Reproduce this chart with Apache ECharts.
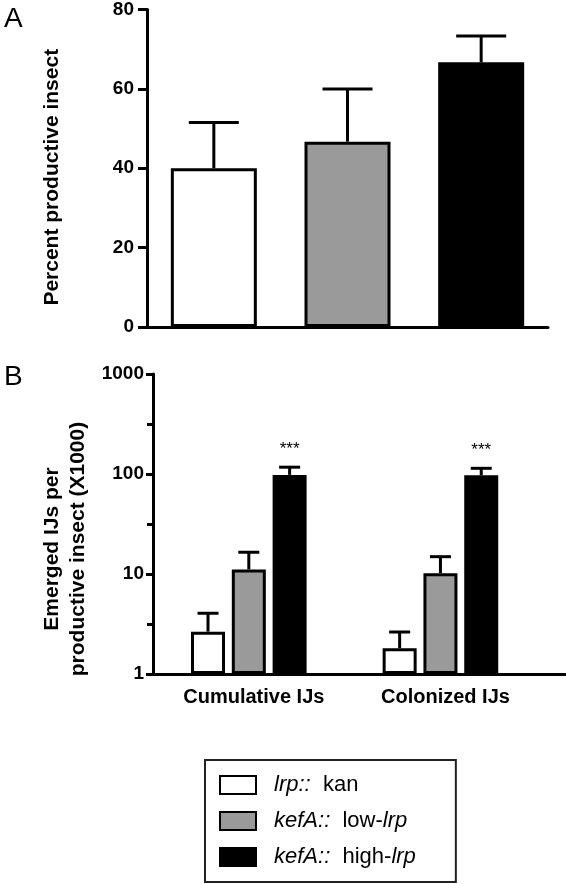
<!DOCTYPE html>
<html>
<head>
<meta charset="utf-8">
<script src="https://cdn.jsdelivr.net/npm/echarts@6/dist/echarts.min.js"></script>
<style>
html,body{margin:0;padding:0;background:#fff;}
#chart{width:566px;height:884px;}
</style>
</head>
<body>
<div id="chart"></div>
<script>
// ---------- Panel A data ----------
var categoriesA = ['lrp:: kan', 'kefA:: low-lrp', 'kefA:: high-lrp'];
var valuesA = [40, 46.7, 66.7];
var errTopA = [51.5, 60, 73.3];
var ticksA = [0, 20, 40, 60, 80];

// ---------- Panel B data ----------
var groupsB = ['Cumulative IJs', 'Colonized IJs'];
var seriesNamesB = ['lrp:: kan', 'kefA:: low-lrp', 'kefA:: high-lrp'];
var kanB = [2.65, 1.81];
var kanErrTopB = [4.05, 2.63];
var lowB = [11.1, 10.2];
var lowErrTopB = [16.5, 14.9];
var highB = [98, 97];
var highErrTopB = [117, 114];
var significanceB = ['***', '***'];
var ticksB = [1, 10, 100, 1000];

var colorsB = ['#ffffff', '#9a9a9a', '#000000'];
var valuesB = [kanB, lowB, highB];
var errTopsB = [kanErrTopB, lowErrTopB, highErrTopB];

var FONT = 'Liberation Sans, Arial, sans-serif';
var BW_B = 34, GAP_B = 0.2;
var STEP_B = BW_B * (1 + GAP_B);

var chart = echarts.init(document.getElementById('chart'), null, {renderer: 'canvas'});

function errA(params, api) {
  var x = api.value(0);
  var base = api.coord([x, api.value(1)]);
  var top = api.coord([x, api.value(2)]);
  var hw = 25;
  return {
    type: 'group',
    children: [
      {type: 'line', shape: {x1: base[0], y1: base[1], x2: top[0], y2: top[1]}, style: {stroke: '#000', lineWidth: 3}},
      {type: 'line', shape: {x1: top[0] - hw, y1: top[1], x2: top[0] + hw, y2: top[1]}, style: {stroke: '#000', lineWidth: 3}}
    ]
  };
}

function makeErrB(k) {
  return function (params, api) {
    var x = api.value(0);
    var off = (k - 1) * STEP_B;
    var base = api.coord([x, api.value(1)]);
    var top = api.coord([x, api.value(2)]);
    var hw = 10.5;
    var cx = base[0] + off;
    var children = [
      {type: 'line', shape: {x1: cx, y1: base[1], x2: cx, y2: top[1]}, style: {stroke: '#000', lineWidth: 3}},
      {type: 'line', shape: {x1: cx - hw, y1: top[1], x2: cx + hw, y2: top[1]}, style: {stroke: '#000', lineWidth: 3}}
    ];
    if (k === 2 && significanceB[params.dataIndex]) {
      children.push({type: 'text', x: cx, y: top[1] - 18, style: {text: significanceB[params.dataIndex], font: 'normal 17px ' + FONT, fill: '#000', align: 'center', verticalAlign: 'middle'}});
    }
    return {type: 'group', children: children};
  };
}

var legendRich = {
  i: {fontFamily: FONT, fontSize: 22, lineHeight: 22, fontStyle: 'italic', color: '#000'},
  n: {fontFamily: FONT, fontSize: 22, lineHeight: 22, color: '#000'},
  sp: {width: 13, lineHeight: 22}
};
var legendText = {
  'lrp:: kan': '{sp| }{i|lrp::}{n|  kan}',
  'kefA:: low-lrp': '{sp| }{i|kefA::}{n|  low-}{i|lrp}',
  'kefA:: high-lrp': '{sp| }{i|kefA::}{n|  high-}{i|lrp}'
};

var series = [];
// Panel A bars
series.push({
  name: 'panelA', type: 'bar', xAxisIndex: 0, yAxisIndex: 0,
  barWidth: 86,
  data: valuesA.map(function (v, i) {
    return {value: v, itemStyle: {color: colorsB[i]}};
  }),
  itemStyle: {borderColor: '#000', borderWidth: 3},
  silent: true, z: 2
});
series.push({
  name: 'panelAErr', type: 'custom', xAxisIndex: 0, yAxisIndex: 0,
  renderItem: errA,
  data: valuesA.map(function (v, i) { return [i, v, errTopA[i]]; }),
  z: 3, silent: true
});
// Panel B bars (group index on a value axis)
for (var k = 0; k < 3; k++) {
  series.push({
    name: seriesNamesB[k], type: 'bar', xAxisIndex: 1, yAxisIndex: 1,
    barWidth: BW_B, barGap: (GAP_B * 100) + '%',
    data: valuesB[k].map(function (v, i) { return [i, v]; }),
    itemStyle: {color: colorsB[k], borderColor: '#000', borderWidth: 3},
    silent: true, z: 2
  });
}
for (var k2 = 0; k2 < 3; k2++) {
  series.push({
    name: 'errB' + k2, type: 'custom', xAxisIndex: 1, yAxisIndex: 1,
    renderItem: makeErrB(k2),
    data: valuesB[k2].map(function (v, i) { return [i, v, errTopsB[k2][i]]; }),
    z: 3, silent: true
  });
}

var option = {
  animation: false,
  backgroundColor: '#fff',
  textStyle: {fontFamily: FONT},
  title: [
    {text: 'A', left: -1, top: 0, textStyle: {fontFamily: FONT, fontSize: 28, fontWeight: 'normal', color: '#000'}},
    {text: 'B', left: -1, top: 358, textStyle: {fontFamily: FONT, fontSize: 28, fontWeight: 'normal', color: '#000'}}
  ],
  grid: [
    {left: 147, right: 18, top: 6, bottom: 557},
    {left: 153, right: 1, top: 374, bottom: 210}
  ],
  xAxis: [
    {
      gridIndex: 0, type: 'category', data: categoriesA,
      axisLine: {lineStyle: {color: '#000', width: 3}},
      axisTick: {show: false}, axisLabel: {show: false}
    },
    {
      gridIndex: 1, type: 'value', min: -0.5, max: 1.65,
      axisLine: {show: true, onZero: false, lineStyle: {color: '#000', width: 3}},
      axisTick: {show: false},
      splitLine: {show: false},
      axisLabel: {
        customValues: [0, 1],
        formatter: function (v) { return groupsB[Math.round(v)] || ''; },
        margin: 13, fontFamily: FONT, fontSize: 20, fontWeight: 'bold', color: '#000', padding: [0, 0, 0, 10]
      }
    }
  ],
  yAxis: [
    {
      gridIndex: 0, type: 'value', min: ticksA[0], max: ticksA[ticksA.length - 1], interval: 20,
      name: 'Percent productive insect', nameLocation: 'middle', nameGap: 84, nameRotate: 90,
      nameTextStyle: {fontFamily: FONT, fontSize: 21, fontWeight: 'bold', color: '#000', padding: [0, 18, 0, 0]},
      axisLine: {show: true, lineStyle: {color: '#000', width: 3}},
      axisTick: {show: true, length: 9, lineStyle: {color: '#000', width: 3}},
      axisLabel: {margin: 13, fontFamily: FONT, fontSize: 19, fontWeight: 'bold', color: '#000'},
      splitLine: {show: false}
    },
    {
      gridIndex: 1, type: 'log', logBase: 10, min: ticksB[0], max: ticksB[ticksB.length - 1],
      position: 'left',
      name: 'Emerged IJs per\nproductive insect (X1000)', nameLocation: 'middle', nameGap: 62, nameRotate: 90,
      nameTextStyle: {fontFamily: FONT, fontSize: 21, fontWeight: 'bold', color: '#000', lineHeight: 26, padding: [0, 50, 0, 0]},
      axisLine: {show: true, onZero: false, lineStyle: {color: '#000', width: 3}},
      axisTick: {show: true, length: 7, lineStyle: {color: '#000', width: 3}},
      minorTick: {show: false},
      axisLabel: {margin: 9, fontFamily: FONT, fontSize: 19, fontWeight: 'bold', color: '#000', formatter: function (v) { return String(v); }},
      splitLine: {show: false}
    },
    {
      // mid-decade minor ticks (log10 exponent scale)
      gridIndex: 1, type: 'value', min: 0, max: 3, interval: 0.5,
      position: 'left', offset: 0,
      axisLine: {show: false, onZero: false},
      axisTick: {show: true, length: 6, lineStyle: {color: '#000', width: 3}},
      axisLabel: {show: false},
      splitLine: {show: false}
    }
  ],
  legend: {
    data: seriesNamesB,
    orient: 'vertical',
    left: 205, top: 760,
    padding: [14, 40, 14, 14],
    itemGap: 14,
    itemWidth: 36, itemHeight: 18,
    icon: 'rect',
    borderColor: '#222', borderWidth: 2,
    selectedMode: false,
    formatter: function (name) { return legendText[name]; },
    textStyle: {rich: legendRich, fontSize: 22}
  },
  series: series
};
chart.setOption(option);
</script>
</body>
</html>
